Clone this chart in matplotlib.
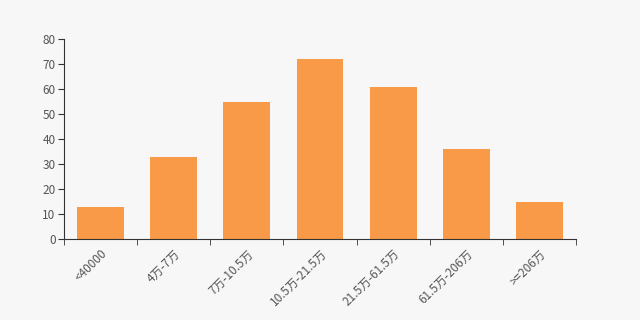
import matplotlib
matplotlib.use("Agg")
import matplotlib.pyplot as plt
import numpy as np

plt.rcParams['font.family'] = ['Noto Sans CJK SC', 'DejaVu Sans']

categorias = ["<40000", "4万-7万", "7万-10.5万", "10.5万-21.5万", "21.5万-61.5万", "61.5万-206万", ">=206万"]
valores = [13, 33, 55, 72, 61, 36, 15]

fondo = "#f7f7f7"
color_barra = "#f89a48"
color_eje = "#333333"

fig = plt.figure(figsize=(6.4, 3.2), dpi=100, facecolor=fondo)
ax = fig.add_axes([0.1, 0.253, 0.8, 0.625], facecolor=fondo)

x = np.arange(len(categorias))
ax.bar(x, valores, width=0.64, color=color_barra, zorder=2)

ax.set_xlim(-0.5, len(categorias) - 0.5)
ax.set_ylim(0, 80)
ax.set_yticks(range(0, 81, 10))

# ticks en los limites de cada categoria, etiquetas en el centro
ax.set_xticks(x)
ax.set_xticklabels(categorias, rotation=45, ha='right', rotation_mode='anchor')
ax.set_xticks(np.arange(-0.5, len(categorias)), minor=True)
ax.tick_params(axis='x', which='major', length=0, pad=6, labelsize=8.5, labelcolor="#555555")
ax.tick_params(axis='x', which='minor', length=4, color=color_eje)
ax.tick_params(axis='y', length=4, color=color_eje, labelsize=8.5, labelcolor="#555555", pad=2)

for lado in ['top', 'right']:
    ax.spines[lado].set_visible(False)
for lado in ['left', 'bottom']:
    ax.spines[lado].set_color(color_eje)
    ax.spines[lado].set_linewidth(0.8)

fig.savefig("out.png", dpi=100, facecolor=fondo)
